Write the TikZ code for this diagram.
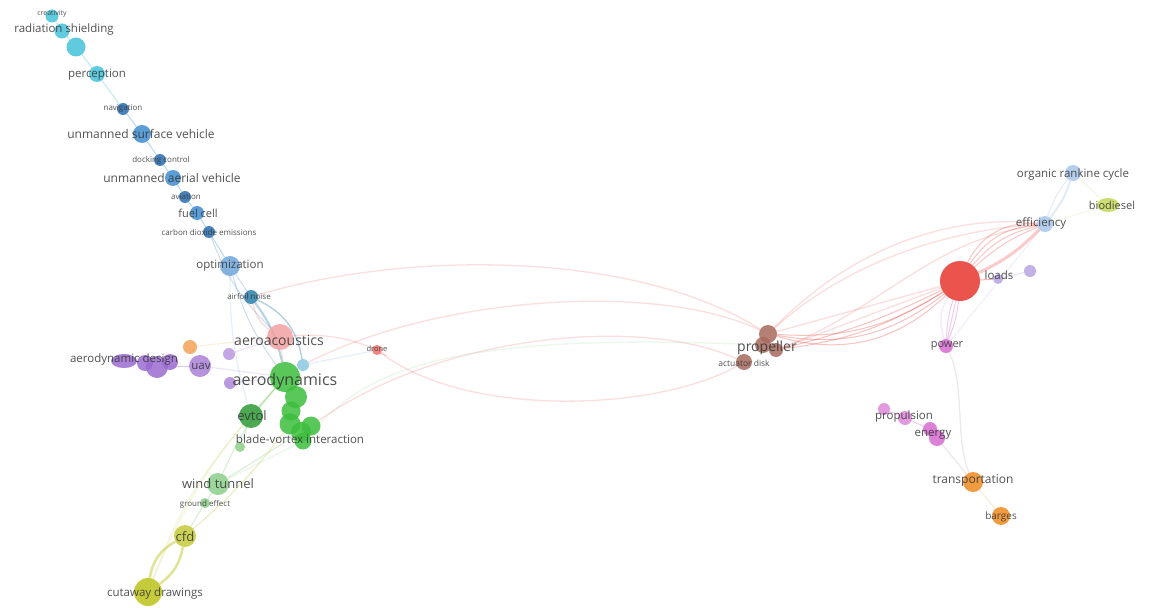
\documentclass[tikz,border=0pt]{standalone}
\usepackage{fontspec}
\setmainfont{Open Sans}
\usetikzlibrary{shapes.geometric}
\pgfdeclarelayer{back}
\pgfdeclarelayer{bg}
\pgfdeclarelayer{fg}
\pgfsetlayers{back,bg,main,fg}
\definecolor{cyanc}{HTML}{45C2DA}
\definecolor{blueA}{HTML}{3F8ED0}
\definecolor{blueD}{HTML}{2A6DB0}
\definecolor{optc}{HTML}{6FA6DA}
\definecolor{tealc}{HTML}{2B7FA6}
\definecolor{salmon}{HTML}{F2A1A1}
\definecolor{greenc}{HTML}{3CBE3C}
\definecolor{greenD}{HTML}{2E9A36}
\definecolor{lgreen}{HTML}{8CCF8A}
\definecolor{olive}{HTML}{C5C93A}
\definecolor{cutc}{HTML}{BCC318}
\definecolor{purp}{HTML}{9B6BD0}
\definecolor{orgL}{HTML}{F2A356}
\definecolor{brown}{HTML}{A86A5E}
\definecolor{bigred}{HTML}{E8352E}
\definecolor{lav}{HTML}{B8A4E0}
\definecolor{lblue}{HTML}{A9C6EC}
\definecolor{biod}{HTML}{C6D85A}
\definecolor{mag}{HTML}{D66BD0}
\definecolor{orgD}{HTML}{EE8A1E}
\definecolor{txt}{HTML}{333333}
\definecolor{skyc}{HTML}{8CC8E0}
\tikzset{
  bub/.style 2 args={circle, inner sep=0pt, minimum size=#1pt, fill=#2, fill opacity=0.85, draw=none},
  ebub/.style n args={3}{ellipse, inner sep=0pt, minimum width=#1pt, minimum height=#2pt, fill=#3, fill opacity=0.85, draw=none},
  lb/.style={text=txt, text opacity=0.85, inner sep=0pt, font=\fontsize{#1}{#1}\selectfont},
  edge/.style={draw=#1, line width=1pt, draw opacity=0.35},
  fedge/.style={draw=#1, line width=1.3pt, draw opacity=0.16},
}
\begin{document}
\begin{tikzpicture}[x=1pt,y=-1pt]
\begin{pgfonlayer}{back}
\fill[white] (0,0) rectangle (1155,607);
\end{pgfonlayer}
\useasboundingbox (0,0) rectangle (1155,607);
% ---------- nodes ----------
\node[bub={13}{cyanc}] (creat) at (52,16) {};
\node[bub={15}{cyanc}] (rad1) at (62,31) {};
\node[bub={19}{cyanc}] (rad2) at (76,47) {};
\node[bub={16}{cyanc}] (percep) at (97,74) {};
\node[bub={12}{blueD}] (navig) at (123,109) {};
\node[bub={18}{blueA}] (usv) at (142,134) {};
\node[bub={12}{blueD}] (dock) at (160,160) {};
\node[bub={16}{blueA}] (uav1) at (173,178) {};
\node[bub={12}{blueD}] (aviat) at (185,197) {};
\node[bub={14}{blueA}] (fuel) at (197,213) {};
\node[bub={12}{blueD}] (co2) at (209,232) {};
\node[bub={20}{optc}] (optim) at (230,266) {};
\node[bub={14}{tealc}] (airfoil) at (251,297) {};
\node[bub={26}{salmon}] (aeroac) at (280,337) {};
\node[bub={10}{bigred!70}] (drone) at (377,350) {};
\node[bub={14}{orgL}] (orgsm) at (190,347) {};
\node[bub={12}{purp!70}] (ps1) at (229,354) {};
\node[bub={12}{purp!80}] (ps2) at (230,383) {};
\node[bub={12}{skyc}] (skysm) at (303,365) {};
\node[ebub={26}{14}{purp}] (ad1) at (124,361) {};
\node[bub={16}{purp}] (ad3) at (145,363) {};
\node[bub={22}{purp}] (ad2) at (157,367) {};
\node[bub={16}{purp}] (ad4) at (170,362) {};
\node[bub={22}{purp!85}] (uavp) at (200,366) {};
\node[bub={30}{greenc}] (aerodyn) at (285,377) {};
\node[bub={22}{greenc}] (g1) at (296,397) {};
\node[bub={19}{greenc}] (g2) at (291,411) {};
\node[bub={21}{greenc}] (g3) at (290,424) {};
\node[bub={20}{greenc}] (g4) at (301,432) {};
\node[bub={19}{greenc}] (g5) at (311,426) {};
\node[bub={17}{greenc}] (g6) at (303,441) {};
\node[bub={24}{greenD}] (evtol) at (251,416) {};
\node[bub={10}{lgreen}] (gsm) at (240,447) {};
\node[bub={22}{lgreen}] (wind) at (218,484) {};
\node[bub={10}{lgreen}] (ground) at (205,503) {};
\node[bub={22}{olive}] (cfd) at (185,536) {};
\node[bub={28}{cutc}] (cut) at (148,592) {};
\node[bub={18}{brown}] (prop1) at (768,334) {};
\node[bub={16}{brown}] (prop2) at (763,345) {};
\node[bub={14}{brown}] (prop3) at (776,350) {};
\node[bub={16}{brown}] (act) at (744,362) {};
\node[bub={40}{bigred}] (bigred) at (960,281) {};
\node[bub={10}{lav}] (loadsn) at (998,279) {};
\node[bub={12}{lav}] (lavsm) at (1030,271) {};
\node[bub={16}{lblue}] (eff) at (1045,224) {};
\node[bub={16}{lblue}] (orc) at (1073,173) {};
\node[ebub={22}{14}{biod}] (biod) at (1108,205) {};
\node[bub={14}{mag}] (power) at (946,346) {};
\node[bub={12}{mag!80}] (pr1) at (884,409) {};
\node[bub={14}{mag!80}] (pr2) at (905,418) {};
\node[bub={14}{mag}] (en1) at (930,429) {};
\node[bub={16}{mag}] (en2) at (937,438) {};
\node[bub={20}{orgD}] (trans) at (973,482) {};
\node[bub={18}{orgD}] (barges) at (1001,516) {};
% ---------- edges ----------
\begin{pgfonlayer}{bg}
\draw[edge=cyanc] (creat) -- (rad1);
\draw[edge=cyanc] (rad1) -- (rad2);
\draw[edge=cyanc] (rad2) -- (percep);
\draw[edge=cyanc] (percep) -- (navig);
\draw[edge=blueA] (navig) -- (usv);
\draw[edge=blueA] (usv) -- (dock);
\draw[edge=blueA] (dock) -- (uav1);
\draw[edge=blueA] (uav1) -- (aviat);
\draw[edge=blueA] (aviat) -- (fuel);
\draw[edge=blueA] (fuel) -- (co2);
\draw[edge=blueA] (co2) -- (optim);
\draw[edge=optc] (optim) -- (airfoil);
\draw[edge=optc] (optim) to[bend right=10] (aerodyn);
\draw[edge=optc] (co2) to[bend right=12] (aeroac);
\draw[edge=tealc, line width=2pt] (airfoil) to[bend left=12] (aerodyn);
\draw[edge=tealc, line width=1.5pt] (airfoil) to[bend left=28] (skysm);
\draw[edge=salmon, line width=1.5pt] (airfoil) to[bend right=20] (aeroac);
\draw[edge=salmon] (aeroac) -- (aerodyn);
\draw[fedge=optc] (optim) to[bend right=8] (evtol);
\draw[edge=purp] (ad1) -- (ad3);
\draw[edge=purp] (ad3) -- (ad2);
\draw[edge=purp] (ad2) -- (uavp);
\draw[fedge=purp] (uavp) -- (aerodyn);
\draw[fedge=purp] (ps2) -- (aerodyn);
\draw[fedge=purp] (ps1) -- (aeroac);
\draw[fedge=orgL] (orgsm) -- (aeroac);
\draw[fedge=optc] (skysm) -- (drone);
\draw[edge=greenc] (aerodyn) -- (g1);
\draw[edge=greenc] (g1) -- (g2);
\draw[edge=greenc] (g2) -- (g3);
\draw[edge=greenc] (g3) -- (g4);
\draw[edge=greenc] (g4) -- (g5);
\draw[edge=greenc] (g5) -- (g6);
\draw[edge=greenc] (aerodyn) -- (evtol);
\draw[edge=lgreen] (evtol) -- (gsm);
\draw[edge=lgreen] (aerodyn) to[bend right=8] (wind);
\draw[edge=lgreen] (g4) -- (wind);
\draw[edge=lgreen] (wind) -- (ground);
\draw[edge=lgreen] (ground) -- (cfd);
\draw[edge=olive] (g3) to[bend left=6] (cfd);
\draw[fedge=olive] (aerodyn) to[bend right=10] (cut);
\draw[edge=cutc, line width=2.5pt, draw opacity=0.45] (cfd) to[bend right=26] (cut);
\draw[edge=cutc, line width=2.5pt, draw opacity=0.45] (cfd) to[bend left=22] (cut);
\draw[fedge=olive] (evtol) to[bend right=10] (cut);
\draw[fedge=lgreen] (g6) -- (wind);
% long arcs
\draw[fedge=bigred] (airfoil) .. controls (400,252) and (630,248) .. (prop1);
\draw[fedge=bigred] (skysm) .. controls (440,295) and (660,282) .. (prop1);
\draw[fedge=bigred] (g5) .. controls (440,335) and (640,315) .. (act);
\draw[fedge=bigred] (aeroac) .. controls (360,330) and (400,365) .. (drone);
\draw[fedge=bigred] (drone) .. controls (470,420) and (660,410) .. (act);
\draw[fedge=lgreen] (g6) .. controls (360,380) and (420,330) .. (prop2);
% right side
\foreach \b in {18,24,30}{
  \draw[edge=bigred, draw opacity=0.3] (prop1) to[bend right=\b] (bigred);
}
\foreach \b in {6,12}{
  \draw[edge=bigred, draw opacity=0.3] (prop3) to[bend right=\b] (bigred);
}
\draw[fedge=bigred] (prop1) .. controls (860,240) and (960,215) .. (eff);
\draw[fedge=bigred] (prop1) .. controls (850,260) and (950,230) .. (eff);
\draw[fedge=bigred] (prop3) .. controls (880,310) and (930,240) .. (eff);
\foreach \b in {10,18,26,34}{
  \draw[edge=bigred, draw opacity=0.28] (bigred) to[bend left=\b] (eff);
}
\draw[edge=bigred, draw opacity=0.25, line width=3pt] (bigred) to[bend right=10] (eff);
\draw[edge=bigred] (bigred) -- (loadsn);
\draw[edge=lav] (loadsn) -- (lavsm);
\draw[fedge=bigred] (bigred) -- (prop1);
\draw[fedge=bigred] (bigred) -- (prop3);
\draw[edge=lblue, line width=2pt] (eff) to[bend right=10] (orc);
\draw[edge=lblue] (eff) to[bend left=10] (orc);
\draw[fedge=biod] (eff) -- (biod);
\draw[fedge=biod] (orc) -- (biod);
\draw[edge=mag] (bigred) to[bend right=8] (power);
\draw[edge=mag] (bigred) -- (power);
\draw[edge=mag] (bigred) to[bend left=8] (power);
\draw[fedge=lav] (eff) -- (power);
\draw[fedge=mag] (bigred) to[bend right=25] (power);
\draw[fedge=gray] (power) .. controls (965,385) and (955,440) .. (trans);
\draw[edge=mag] (pr1) -- (pr2);
\draw[edge=mag] (pr2) -- (en1);
\draw[edge=mag] (en1) -- (en2);
\draw[fedge=gray] (en2) -- (trans);
\draw[fedge=orgD] (trans) -- (barges);
\end{pgfonlayer}
% ---------- labels ----------
\begin{pgfonlayer}{fg}
\node[lb=7] at (52,14) {creativity};
\node[lb=11.5] at (64,30) {radiation shielding};
\node[lb=11.5] at (97,75) {perception};
\node[lb=8] at (123,109) {navigation};
\node[lb=12] at (141,134) {unmanned surface vehicle};
\node[lb=8] at (161,160) {docking control};
\node[lb=12] at (172,178) {unmanned aerial vehicle};
\node[lb=8] at (186,197) {aviation};
\node[lb=11] at (198,213) {fuel cell};
\node[lb=8] at (209,232) {carbon dioxide emissions};
\node[lb=11.5] at (230,266) {optimization};
\node[lb=8] at (249,296) {airfoil noise};
\node[lb=14] at (279,340) {aeroacoustics};
\node[lb=7.5] at (377,349) {drone};
\node[lb=11.5] at (124,360) {aerodynamic design};
\node[lb=11.5] at (201,366) {uav};
\node[lb=16] at (285,381) {aerodynamics};
\node[lb=13] at (252,416) {evtol};
\node[lb=11.5] at (300,439) {blade-vortex interaction};
\node[lb=13] at (218,484) {wind tunnel};
\node[lb=8] at (205,504) {ground effect};
\node[lb=13] at (185,537) {cfd};
\node[lb=11.5] at (155,594) {cutaway drawings};
\node[lb=14] at (767,348) {propeller};
\node[lb=8.5] at (744,363) {actuator disk};
\node[lb=11.5] at (1073,175) {organic rankine cycle};
\node[lb=11] at (1112,205) {biodiesel};
\node[lb=11.5] at (1041,223) {efficiency};
\node[lb=11.5] at (999,275) {loads};
\node[lb=11] at (947,346) {power};
\node[lb=11.5] at (904,417) {propulsion};
\node[lb=11.5] at (933,435) {energy};
\node[lb=12] at (973,481) {transportation};
\node[lb=10] at (1001,517) {barges};
\end{pgfonlayer}
\end{tikzpicture}
\end{document}
